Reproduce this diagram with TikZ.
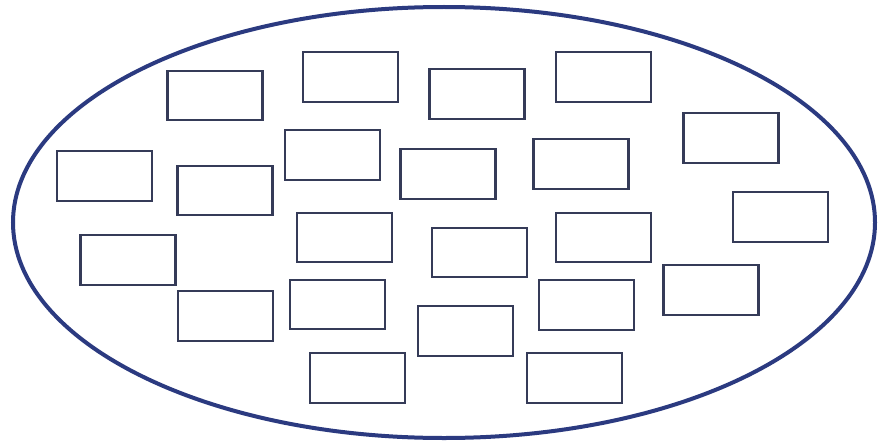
\documentclass[tikz,border=0pt]{standalone}
\usetikzlibrary{shapes.geometric}
\definecolor{ovalblue}{HTML}{2B3A80}
\definecolor{boxline}{HTML}{353B58}
\tikzset{
  oval/.style={draw=ovalblue, line width=4pt, ellipse, inner sep=0pt, minimum width=862pt, minimum height=431pt},
  emptybox/.style={draw=boxline, line width=2.4pt, rectangle, inner sep=0pt, minimum width=95pt, minimum height=49.5pt}
}
\begin{document}
\begin{tikzpicture}[x=1pt,y=-1pt]
\useasboundingbox (0,0) rectangle (890,444);
\node[oval] (O) at (444,222.5) {};
\node[emptybox] (b1) at (215,95.5) {};
\node[emptybox] (b2) at (350.5,77) {};
\node[emptybox] (b3) at (477,94) {};
\node[emptybox] (b4) at (603.5,77) {};
\node[emptybox] (b5) at (731,138) {};
\node[emptybox] (b6) at (104.5,176) {};
\node[emptybox] (b7) at (225,190.5) {};
\node[emptybox] (b8) at (332.5,155) {};
\node[emptybox] (b9) at (448,174) {};
\node[emptybox] (b10) at (581,164) {};
\node[emptybox] (b11) at (780.5,217) {};
\node[emptybox] (b12) at (128,260) {};
\node[emptybox] (b13) at (344.5,237.5) {};
\node[emptybox] (b14) at (479.5,252.5) {};
\node[emptybox] (b15) at (603.5,237.5) {};
\node[emptybox] (b16) at (711,290) {};
\node[emptybox] (b17) at (225.5,316) {};
\node[emptybox] (b18) at (337.5,304.5) {};
\node[emptybox] (b19) at (465.5,331) {};
\node[emptybox] (b20) at (586.5,305) {};
\node[emptybox] (b21) at (357.5,378) {};
\node[emptybox] (b22) at (574.5,378) {};
\end{tikzpicture}
\end{document}
